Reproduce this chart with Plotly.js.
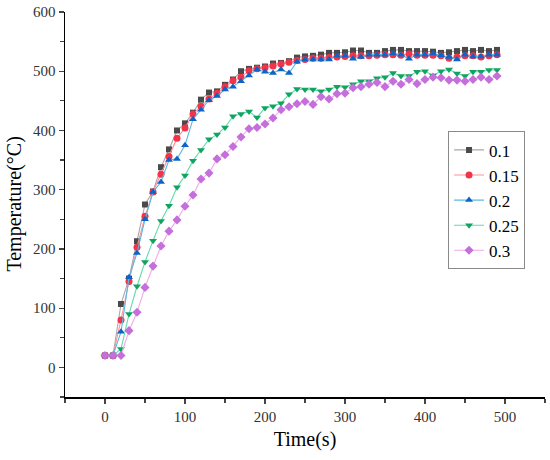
<!DOCTYPE html>
<html>
<head>
<meta charset="utf-8">
<script src="https://cdn.plot.ly/plotly-3.0.1.min.js"></script>
<style>html,body{margin:0;padding:0;background:#fff;}#chart{width:550px;height:460px;}</style>
</head>
<body>
<div id="chart"></div>
<script>
var time = [0,10,20,30,40,50,60,70,80,90,100,110,120,130,140,150,160,170,180,190,200,210,220,230,240,250,260,270,280,290,300,310,320,330,340,350,360,370,380,390,400,410,420,430,440,450,460,470,480,490];
var names = ["0.1","0.15","0.2","0.25","0.3"];
var s01 = [20,20,107,150,213,275,297,338,368,400,412,430,452,464,466,477,486,500,504,506,508,513,514,517,523,525,526,528,531,531,532,535,535,531,531,534,536,536,534,534,534,533,531,532,534,536,534,536,534,536];
var s015 = [20,20,80,145,203,255,296,326,356,387,404,428,441,453,463,474,484,490,501,504,506,509,512,515,518,520,522,522,523,524,525,526,526,526,527,528,528,527,529,527,527,527,526,522,524,526,526,524,526,528];
var s02 = [20,20,60,152,193,250,296,313,350,352,375,419,435,451,458,469,474,483,493,503,499,497,503,497,516,520,520,520,520,526,526,521,524,528,528,528,530,528,521,528,528,530,527,524,520,528,525,525,528,528];
var s025 = [20,20,31,90,137,178,214,247,273,304,324,349,367,385,393,405,424,428,432,422,438,441,446,461,470,469,469,466,469,474,473,478,483,483,488,490,497,492,492,499,500,493,500,503,496,492,499,499,502,502];
var s03 = [20,20,20,62,93,135,171,205,230,249,272,291,318,328,352,359,373,389,403,405,411,421,435,440,445,449,444,457,453,462,463,472,474,478,481,474,483,478,486,479,486,490,489,485,485,483,486,490,486,492];
var series = [s01, s015, s02, s025, s03];
var markerColors = ["#4a4a4a","#f2334a","#0f63c6","#0fa45f","#c46fdc"];
var lineColors = ["#a8a8a8","#ff8f9c","#5bb8e3","#5fdcac","#f1a9e9"];
var symbols = ["square","circle","triangle-up","triangle-down","diamond"];
var sizes = [6,7,7,7,7];

var traces = series.map(function(v, i){
  return {
    x: time, y: v, name: names[i], type: "scatter", mode: "lines+markers",
    line: {color: lineColors[i], width: 1.1},
    marker: {color: markerColors[i], symbol: symbols[i], size: sizes[i], line: {width: 0}}
  };
});

var SERIF = "Times New Roman, Tinos, Liberation Serif, DejaVu Serif";
var axisFont = {family: SERIF, size: 15, color: "#333"};
var layout = {
  width: 550, height: 460,
  margin: {l: 65, r: 5, t: 12, b: 63},
  paper_bgcolor: "#fff", plot_bgcolor: "#fff",
  showlegend: true,
  font: {family: SERIF, color: "#000"},
  xaxis: {
    range: [-50, 550], tickvals: [0,100,200,300,400,500], ticks: "outside", ticklen: 5, tickwidth: 1.2,
    minor: {tickvals: [-50,50,150,250,350,450,550], ticks: "outside", ticklen: 4, tickwidth: 1.2},
    showline: true, linecolor: "#000", linewidth: 1.5, showgrid: false, zeroline: false,
    tickfont: axisFont,
    title: {text: "Time(s)", font: {family: SERIF, size: 20, color: "#000"}, standoff: 8}
  },
  yaxis: {
    range: [-50, 600], tickvals: [0,100,200,300,400,500,600], ticks: "outside", ticklen: 5, tickwidth: 1.2,
    minor: {tickvals: [-50,50,150,250,350,450,550], ticks: "outside", ticklen: 4, tickwidth: 1.2},
    showline: true, linecolor: "#000", linewidth: 1.5, showgrid: false, zeroline: false,
    tickfont: axisFont
  },
  annotations: [{
    text: "Temperature(°C)", xref: "paper", yref: "paper", x: -0.106, y: 0.5,
    xanchor: "center", yanchor: "middle", textangle: -90, showarrow: false,
    font: {family: SERIF, size: 20, color: "#000"}
  }],
  legend: {
    x: 0.798, y: 0.69, xanchor: "left", yanchor: "top",
    bordercolor: "#8a8a8a", borderwidth: 1, bgcolor: "#fff",
    font: {family: SERIF, size: 17, color: "#000"},
    itemwidth: 30, tracegroupgap: 0
  }
};

Plotly.newPlot("chart", traces, layout, {displayModeBar: false, staticPlot: true});
</script>
</body>
</html>
